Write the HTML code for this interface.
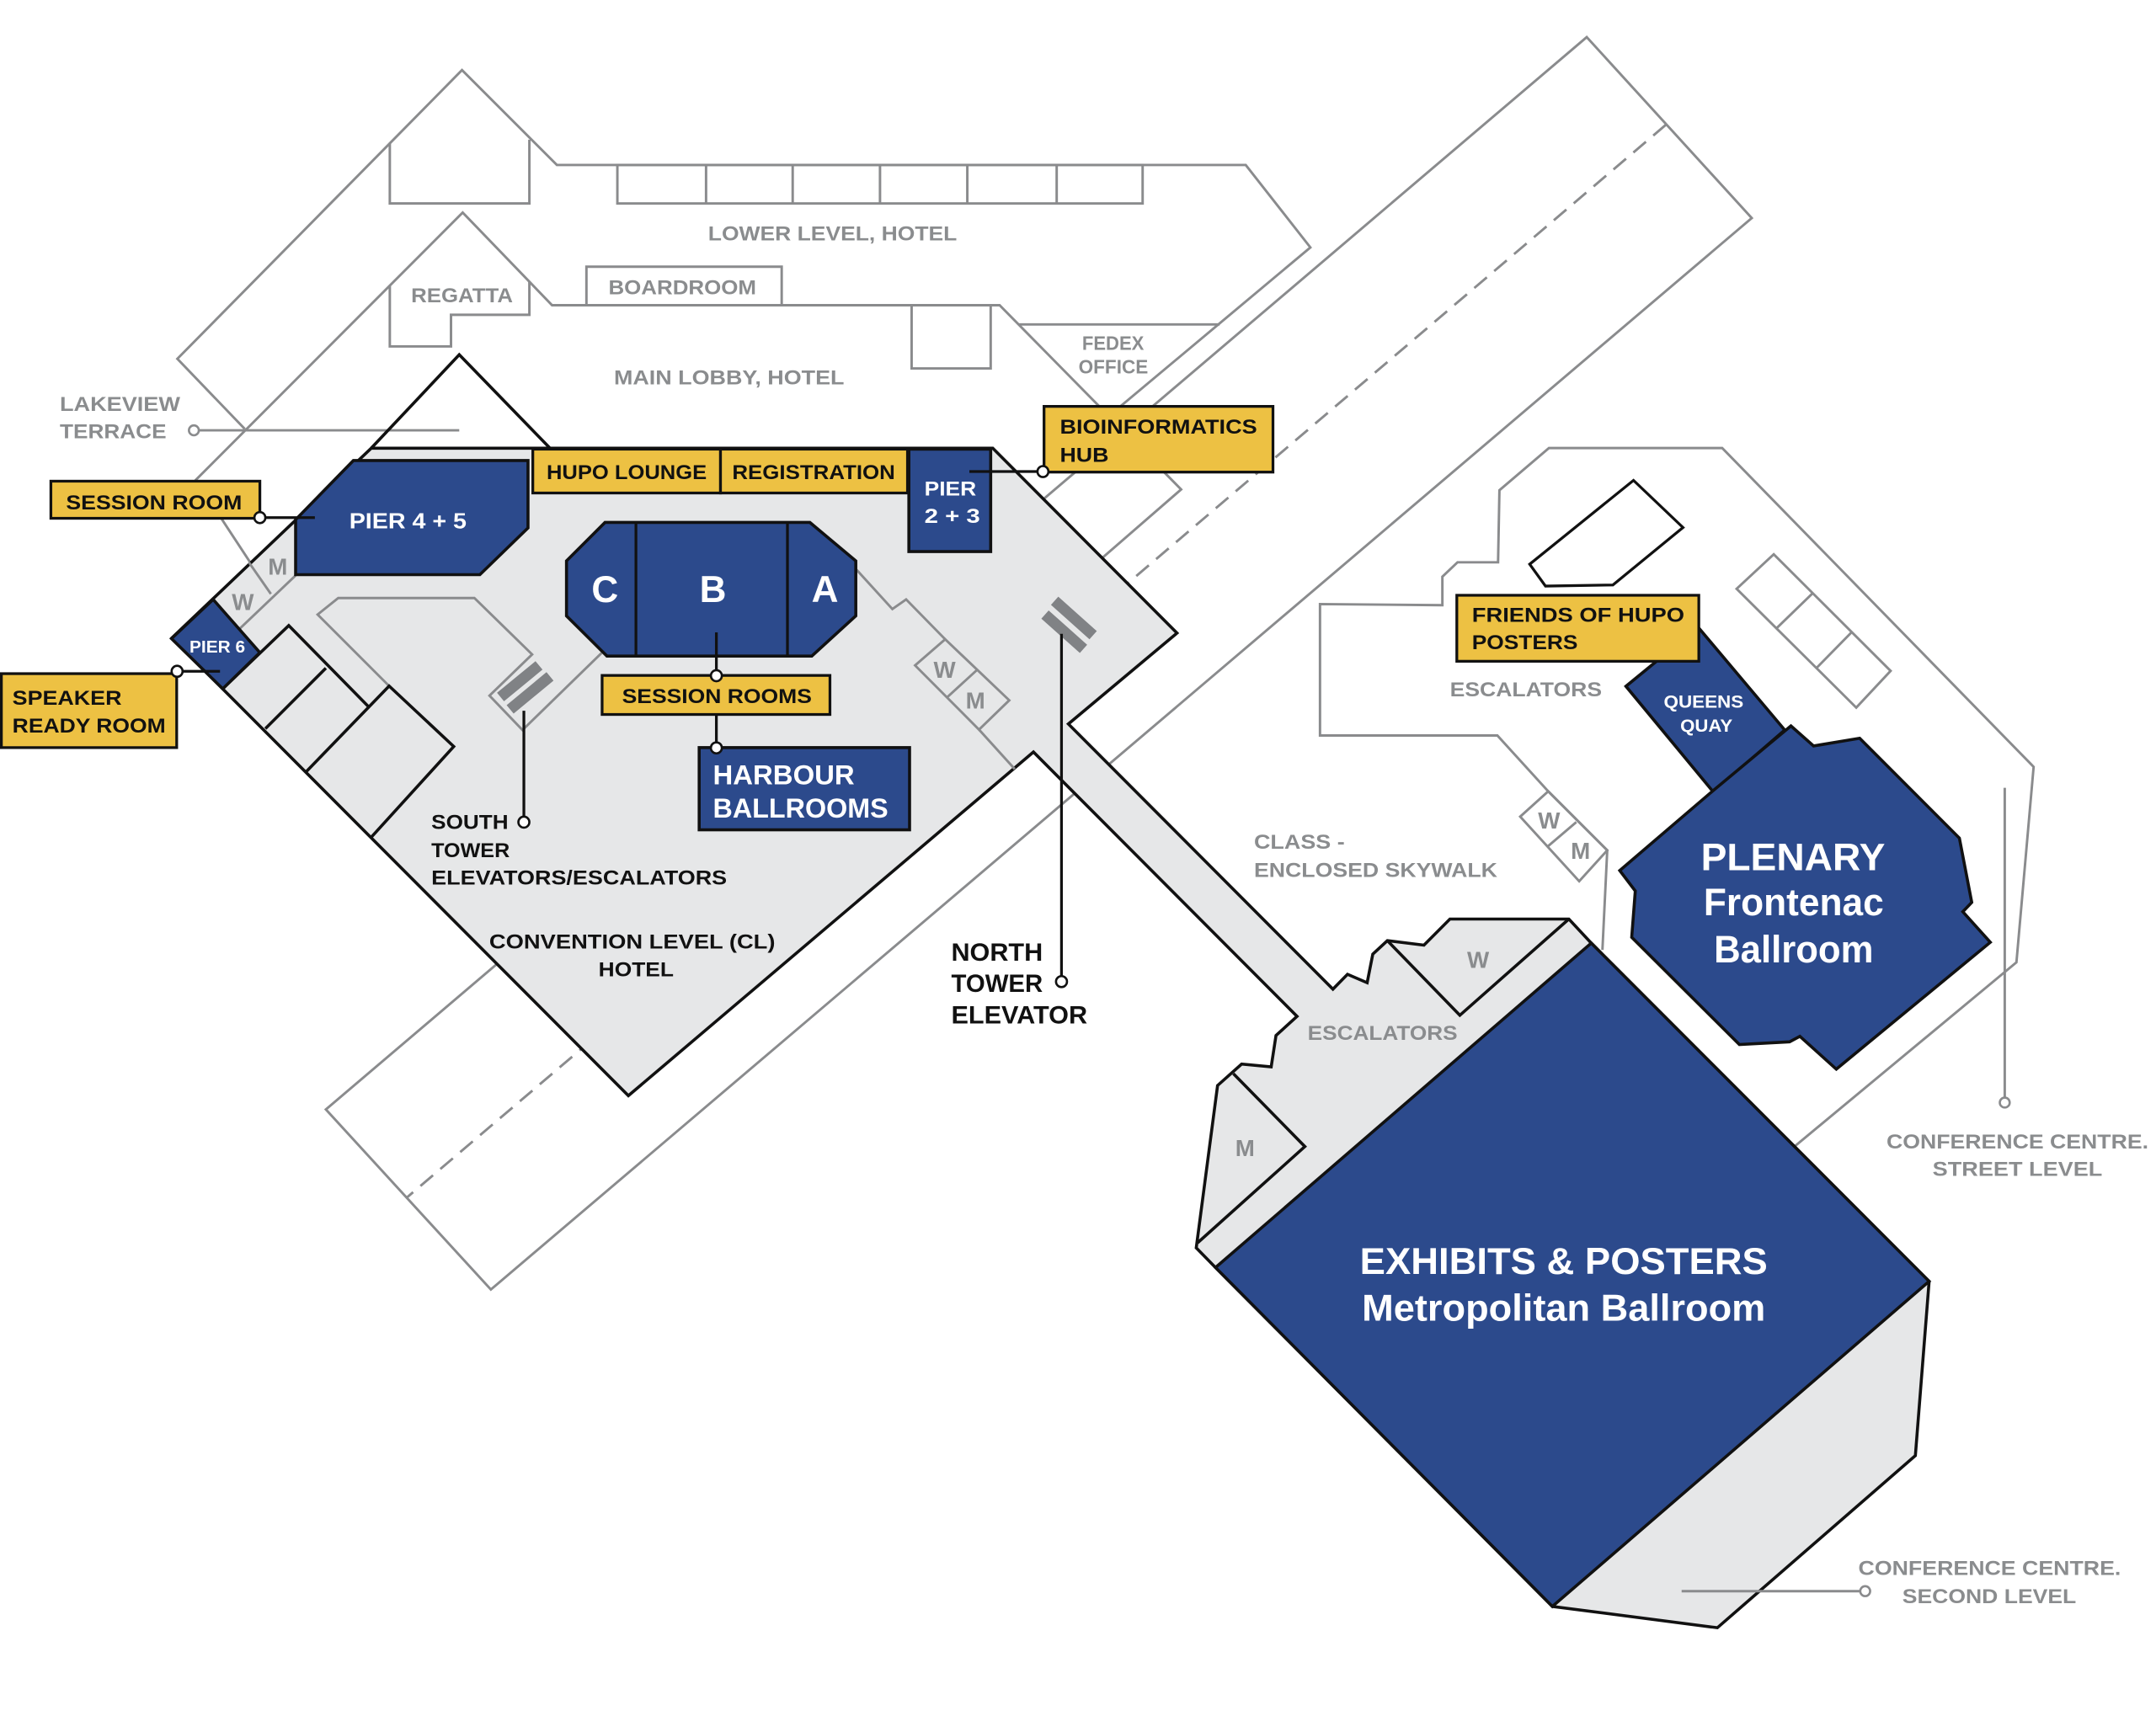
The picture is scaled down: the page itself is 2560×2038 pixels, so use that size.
<!DOCTYPE html>
<html><head><meta charset="utf-8">
<style>html,body{margin:0;padding:0;background:#fff;}svg{display:block;}</style>
</head><body>
<svg width="2560" height="2038" viewBox="0 0 1568 1248.2" preserveAspectRatio="none" xmlns="http://www.w3.org/2000/svg">
<rect x="0" y="0" width="1568" height="1248.2" fill="#fff"/>

<!-- GRAY OUTLINES (background levels) -->
<g fill="none" stroke="#8a8b8d" stroke-width="1.8" stroke-linejoin="miter">
  <!-- skywalk rectangle -->
  <polygon points="1154,27 1274,158.6 357,938 237,807"/>
  <line x1="1211.5" y1="90.8" x2="296" y2="871" stroke-dasharray="12 7"/>
  <!-- lower level hotel -->
  <polyline points="800,308 953,180 906,120 405,120 336,51 129,261 178,312"/>
  <polyline points="283.5,104 283.5,148 385,148 385,101.6"/>
  <rect x="449" y="120" width="382" height="28"/>
  <line x1="513.5" y1="120" x2="513.5" y2="148"/>
  <line x1="576.5" y1="120" x2="576.5" y2="148"/>
  <line x1="640" y1="120" x2="640" y2="148"/>
  <line x1="703.5" y1="120" x2="703.5" y2="148"/>
  <line x1="768.5" y1="120" x2="768.5" y2="148"/>
  <!-- main lobby -->
  <polyline points="197,432 142.5,349 336.5,154.6 401.5,222 727,222 859,356 760,442"/>
  <polyline points="283.5,208 283.5,252 328,252 328,229 385,229 385,205"/>
  <polyline points="426.5,222 426.5,194 568.5,194 568.5,222"/>
  <polyline points="663,222 663,268 720.5,268 720.5,222"/>
  <line x1="741" y1="236" x2="887" y2="236"/>
  <!-- lakeview leader -->
  <line x1="145" y1="313" x2="334" y2="313"/>
  <!-- street level -->
  <polyline points="1305,834 1466.5,700 1479,557.8 1252.5,325.9 1126.5,325.9 1090.5,356.6 1089.5,409 1060,409 1049,419.5 1049,440.2 960,439.4 960,535 1089,535 1126,575.6 1168.9,618.5 1165.4,691"/>
  <polygon points="1105.6,594 1126,575.6 1168.9,618.5 1148.5,641"/>
  <line x1="1126" y1="615.4" x2="1146.4" y2="598"/>
  <polygon points="1263,428.3 1290,403.2 1375,488 1350,514.7"/>
  <line x1="1292" y1="457" x2="1318.3" y2="431.5"/>
  <line x1="1321" y1="486" x2="1346.7" y2="459.8"/>
  <line x1="1458" y1="573" x2="1458" y2="798"/>
</g>
<circle cx="141" cy="313" r="3.6" fill="#fff" stroke="#8a8b8d" stroke-width="1.6"/>
<circle cx="1458" cy="802" r="3.6" fill="#fff" stroke="#8a8b8d" stroke-width="1.6"/>

<!-- Black triangle above convention level -->
<polyline points="270,326 334,258 400,326" fill="none" stroke="#111" stroke-width="2.2"/>

<!-- Convention level + corridor + conference centre second level -->
<polygon points="270,326 722,326 856,460.5 777,526.6 969.4,719.5 980,708.7 994.3,714.8 998.4,694 1009,684.2 1035.6,687.5 1054.5,668.5 1141,668.5 1157.3,686 1403,932 1393,1058.8 1249,1184 1129,1168.5 884,922 870,907.7 885.5,789.6 903,774 924.5,776 928,753.2 943.3,739.3 751.6,547 457,797 125,464" fill="#e6e7e8" stroke="#111" stroke-width="2.2" stroke-linejoin="miter"/>

<!-- interior gray lines -->
<g fill="none" stroke="#8a8b8d" stroke-width="1.8">
  <line x1="174" y1="457.6" x2="215" y2="418.6"/>
  <line x1="181" y1="409" x2="197" y2="432"/>
  <polyline points="283,499 231,447 246,435 345,435 387,476 356,506 380,531 437.5,475"/>
  <polyline points="623,414.5 649,443 659,436 687.4,465"/>
  <polygon points="665.5,484 687.4,465 734,509.4 712,530.7"/>
  <line x1="688.7" y1="507.3" x2="710.7" y2="487.2"/>
  <line x1="712" y1="530.7" x2="738" y2="559.4"/>
  <line x1="1223" y1="1157.4" x2="1352.5" y2="1157.4"/>
</g>
<circle cx="1356.5" cy="1157.4" r="3.6" fill="#fff" stroke="#8a8b8d" stroke-width="1.6"/>

<!-- escalator bars -->
<g stroke="#808285" stroke-width="8">
  <line x1="364" y1="507" x2="392" y2="484"/>
  <line x1="371" y1="516" x2="400" y2="492"/>
  <line x1="767" y1="437" x2="795" y2="462"/>
  <line x1="760" y1="447" x2="788" y2="472"/>
</g>

<!-- black room boxes -->
<g fill="none" stroke="#111" stroke-width="2.2">
  <polyline points="162,501 210,455 268,514"/>
  <line x1="193" y1="530" x2="237" y2="486"/>
  <polyline points="223,561 283,499 330,543 270,609"/>
  <polyline points="1009,684.2 1061.7,738.5 1141,668.5"/>
  <polyline points="897,781 949,834 871,904"/>
</g>

<!-- BLUE ROOMS -->
<g fill="#2c4a8c" stroke="#111" stroke-width="2.2" stroke-linejoin="miter">
  <polygon points="124.7,464.5 155,436 189,474.7 162,501"/>
  <polygon points="257,335 384,335 384,384 349,418 215,418 215,378"/>
  <polygon points="412,408 440,380 589,380 622.4,408 622.4,448 590.4,477.2 441.4,477.2 412,448"/>
  <rect x="661" y="326.7" width="59.5" height="74.5"/>
  <rect x="508.5" y="543.8" width="153" height="59.8"/>
  <polygon points="1157.3,686 1403,932 1129,1168.5 884,922"/>
  <polygon points="1182.5,499.2 1235,456.2 1298,531 1246,576"/>
  <polygon points="1246,575 1302.5,528 1319,542.6 1352.5,537 1425,609.6 1434,656.4 1427.5,663.2 1447.5,685.4 1335.5,777.7 1309,753.8 1301.5,757.8 1265,759.8 1186.7,681.8 1189.3,648.1 1178,633.2"/>
</g>
<line x1="462.5" y1="380" x2="462.5" y2="477" stroke="#111" stroke-width="2"/>
<line x1="572.7" y1="380" x2="572.7" y2="477" stroke="#111" stroke-width="2"/>

<!-- pentagon -->
<polygon points="1112.5,410.4 1188,349.4 1224,383.7 1173,425.5 1124,426.3" fill="#fff" stroke="#111" stroke-width="2"/>

<!-- YELLOW LABELS -->
<g fill="#edc143" stroke="#111" stroke-width="2">
  <rect x="37" y="350" width="152" height="27"/>
  <rect x="1" y="490" width="127.5" height="53.8"/>
  <rect x="387.5" y="326.7" width="136.5" height="31.9"/>
  <rect x="524" y="326.7" width="136" height="31.9"/>
  <rect x="759.3" y="295.6" width="166.5" height="47.8"/>
  <rect x="437.9" y="491.3" width="165.7" height="28.4"/>
  <rect x="1059.5" y="433" width="176" height="48"/>
</g>

<!-- LEADERS -->
<g stroke="#111" stroke-width="2" fill="none">
  <line x1="193" y1="376.5" x2="229" y2="376.5"/>
  <line x1="133" y1="488.3" x2="160" y2="488.3"/>
  <line x1="705" y1="343" x2="754" y2="343"/>
  <line x1="521" y1="460" x2="521" y2="487"/>
  <line x1="521" y1="520" x2="521" y2="540"/>
  <line x1="381" y1="517" x2="381" y2="594"/>
  <line x1="772" y1="461" x2="772" y2="710"/>
</g>
<g fill="#fff" stroke="#111" stroke-width="1.6">
  <circle cx="189" cy="376.5" r="4"/>
  <circle cx="128.8" cy="488.3" r="4"/>
  <circle cx="758.5" cy="343" r="4"/>
  <circle cx="521" cy="491.5" r="4"/>
  <circle cx="521" cy="544" r="4"/>
  <circle cx="381" cy="598" r="4"/>
  <circle cx="772" cy="714" r="4"/>
</g>

<!-- TEXT -->
<g font-family="'Liberation Sans', Arial, sans-serif" font-weight="bold">
  <!-- gray texts -->
  <g fill="#8a8c8e" font-size="15">
    <text x="515" y="175" textLength="181" lengthAdjust="spacingAndGlyphs">LOWER LEVEL, HOTEL</text>
    <text x="299" y="220" textLength="74" lengthAdjust="spacingAndGlyphs">REGATTA</text>
    <text x="442.5" y="214" textLength="107.5" lengthAdjust="spacingAndGlyphs">BOARDROOM</text>
    <text x="446.5" y="279.5" textLength="167.5" lengthAdjust="spacingAndGlyphs">MAIN LOBBY, HOTEL</text>
    <text x="43.5" y="298.8" textLength="87.5" lengthAdjust="spacingAndGlyphs">LAKEVIEW</text>
    <text x="43.5" y="318.7" textLength="77.5" lengthAdjust="spacingAndGlyphs">TERRACE</text>
    <text x="787" y="254.6" font-size="14" textLength="45" lengthAdjust="spacingAndGlyphs">FEDEX</text>
    <text x="784.4" y="271.5" font-size="14" textLength="50.6" lengthAdjust="spacingAndGlyphs">OFFICE</text>
    <text x="1054.5" y="506.5" textLength="110.5" lengthAdjust="spacingAndGlyphs">ESCALATORS</text>
    <text x="912" y="617.5" textLength="66" lengthAdjust="spacingAndGlyphs">CLASS -</text>
    <text x="912" y="638" textLength="177" lengthAdjust="spacingAndGlyphs">ENCLOSED SKYWALK</text>
    <text x="951" y="756.3" textLength="109" lengthAdjust="spacingAndGlyphs">ESCALATORS</text>
    <text x="1372" y="835.3" textLength="190.5" lengthAdjust="spacingAndGlyphs">CONFERENCE CENTRE.</text>
    <text x="1405.5" y="855.2" textLength="123.5" lengthAdjust="spacingAndGlyphs">STREET LEVEL</text>
    <text x="1351.5" y="1145.5" textLength="191" lengthAdjust="spacingAndGlyphs">CONFERENCE CENTRE.</text>
    <text x="1383.5" y="1166" textLength="126.5" lengthAdjust="spacingAndGlyphs">SECOND LEVEL</text>
  </g>
  <g fill="#8a8c8e" font-size="17" text-anchor="middle">
    <text x="176.6" y="443.8">W</text>
    <text x="202" y="418">M</text>
    <text x="687" y="493">W</text>
    <text x="709.4" y="515.4">M</text>
    <text x="1126.6" y="602.6">W</text>
    <text x="1149.5" y="624.6">M</text>
    <text x="1075" y="704">W</text>
    <text x="905.5" y="841">M</text>
  </g>
  <!-- black texts -->
  <g fill="#111" font-size="15">
    <text x="48" y="370.5" textLength="128" lengthAdjust="spacingAndGlyphs">SESSION ROOM</text>
    <text x="9" y="512.7" textLength="79.5" lengthAdjust="spacingAndGlyphs">SPEAKER</text>
    <text x="9" y="532.7" textLength="111.5" lengthAdjust="spacingAndGlyphs">READY ROOM</text>
    <text x="397.5" y="348.6" textLength="116.5" lengthAdjust="spacingAndGlyphs">HUPO LOUNGE</text>
    <text x="532.5" y="348.6" textLength="118.5" lengthAdjust="spacingAndGlyphs">REGISTRATION</text>
    <text x="770.8" y="315.3" textLength="143.5" lengthAdjust="spacingAndGlyphs">BIOINFORMATICS</text>
    <text x="770.8" y="335.8" textLength="35.5" lengthAdjust="spacingAndGlyphs">HUB</text>
    <text x="452.4" y="511.3" textLength="138" lengthAdjust="spacingAndGlyphs">SESSION ROOMS</text>
    <text x="1070.5" y="452.2" textLength="154.5" lengthAdjust="spacingAndGlyphs">FRIENDS OF HUPO</text>
    <text x="1070.5" y="472.1" textLength="77" lengthAdjust="spacingAndGlyphs">POSTERS</text>
    <text x="313.7" y="603" textLength="56" lengthAdjust="spacingAndGlyphs">SOUTH</text>
    <text x="313.7" y="623.5" textLength="57" lengthAdjust="spacingAndGlyphs">TOWER</text>
    <text x="313.7" y="643.5" textLength="215" lengthAdjust="spacingAndGlyphs">ELEVATORS/ESCALATORS</text>
    <text x="355.8" y="690" textLength="208" lengthAdjust="spacingAndGlyphs">CONVENTION LEVEL (CL)</text>
    <text x="435.3" y="710.2" textLength="54.7" lengthAdjust="spacingAndGlyphs">HOTEL</text>
  </g>
  <g fill="#111" font-size="18">
    <text x="691.8" y="698.7" textLength="66.6" lengthAdjust="spacingAndGlyphs">NORTH</text>
    <text x="691.8" y="721.4" textLength="66.6" lengthAdjust="spacingAndGlyphs">TOWER</text>
    <text x="691.8" y="744.4" textLength="99" lengthAdjust="spacingAndGlyphs">ELEVATOR</text>
  </g>
  <!-- white texts -->
  <g fill="#fff">
    <text x="254" y="384.4" font-size="16" textLength="85.3" lengthAdjust="spacingAndGlyphs">PIER 4 + 5</text>
    <text x="137.8" y="474.7" font-size="12.5" textLength="40.5" lengthAdjust="spacingAndGlyphs">PIER 6</text>
    <text x="672.3" y="360.4" font-size="15" textLength="37.7" lengthAdjust="spacingAndGlyphs">PIER</text>
    <text x="672.3" y="380.3" font-size="15" textLength="40.5" lengthAdjust="spacingAndGlyphs">2 + 3</text>
    <text x="440" y="438" font-size="27" text-anchor="middle">C</text>
    <text x="518.5" y="438" font-size="27" text-anchor="middle">B</text>
    <text x="600" y="438" font-size="27" text-anchor="middle">A</text>
    <text x="518.5" y="570.5" font-size="20" textLength="103" lengthAdjust="spacingAndGlyphs">HARBOUR</text>
    <text x="518.5" y="594.8" font-size="20" textLength="127.5" lengthAdjust="spacingAndGlyphs">BALLROOMS</text>
    <text x="1210" y="514.7" font-size="13" textLength="58" lengthAdjust="spacingAndGlyphs">QUEENS</text>
    <text x="1222" y="532.3" font-size="13" textLength="38" lengthAdjust="spacingAndGlyphs">QUAY</text>
    <text x="1237" y="633" font-size="28" textLength="134" lengthAdjust="spacingAndGlyphs">PLENARY</text>
    <text x="1239" y="665.6" font-size="28" textLength="131" lengthAdjust="spacingAndGlyphs">Frontenac</text>
    <text x="1246.5" y="700" font-size="28" textLength="116" lengthAdjust="spacingAndGlyphs">Ballroom</text>
    <text x="989" y="926.8" font-size="27" textLength="296.5" lengthAdjust="spacingAndGlyphs">EXHIBITS &amp; POSTERS</text>
    <text x="990.5" y="960.6" font-size="27" textLength="293.5" lengthAdjust="spacingAndGlyphs">Metropolitan Ballroom</text>
  </g>
</g>
</svg>
</body></html>
